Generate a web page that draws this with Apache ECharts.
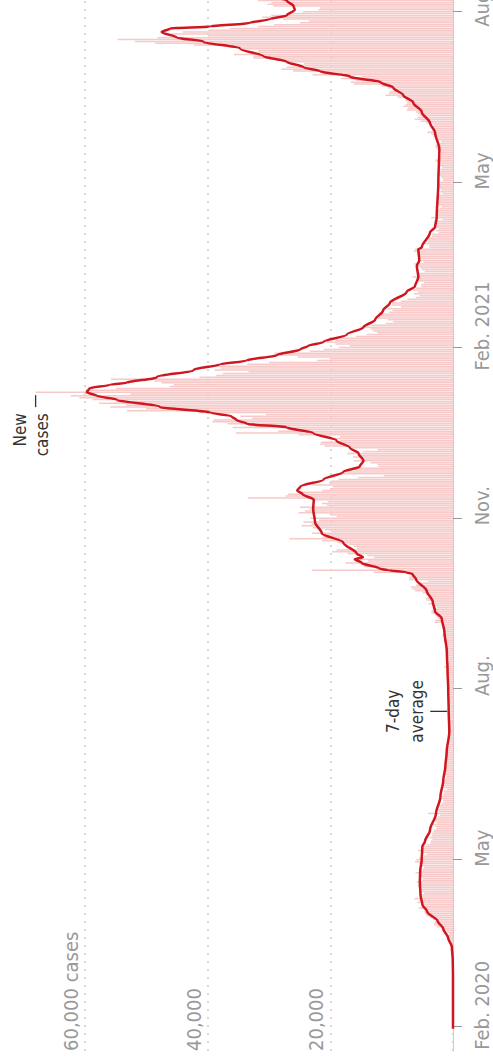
<!DOCTYPE html>
<html>
<head>
<meta charset="utf-8">
<script src="https://cdn.jsdelivr.net/npm/echarts@6/dist/echarts.min.js"></script>
<style>
  html, body { margin: 0; padding: 0; background: #fff; overflow: hidden; }
  /* chart is drawn flat (1062 x 493) and turned a quarter turn to stand upright */
  #box { position: absolute; left: 0; top: 1062px; width: 1062px; height: 493px;
         transform-origin: 0 0; transform: rotate(-90deg); }
</style>
</head>
<body>
<div id="box"></div>
<script>
// daily new cases, one array per month
var jan20 = [2];
var feb20 = [0,0,0,0,0,0,0,0,1,4, 0,0,0,0,0,0,0,0,0,0, 0,0,0,4,0,0,0,3,4];
var mar20 = [12,4,11,34,30,48,43,67,48,61, 74,134,208,342,251,152,407,676,643,714, 1035,665,967,1800,1900,2600,3100,3000,2900,3300, 3700];
var apr20 = [4400,4500,4800,4300,5600,4600,4900,5800,5500,6300, 5200,5300,4700,5400,5500,5100,5700,5600,5900,5000, 4900,5300,5600,6100,5300,4900,4700,5300,5600,6200];
var may20 = [6000,5500,4700,4300,5000,5700,5100,4700,4300,3700, 3600,3400,3800,3400,3500,3300,3100,2700,2900,3200, 2700,3000,2900,2500,2100,4100,2300,2600,2100,2400, 1900];
var jun20 = [1600,1600,1900,1800,1600,1400,1500,1000,1500,1700, 1500,1400,1300,1200,1100,1300,1100,1200,1300,1100, 1000,950,1200,1050,1100,1000,1000,900,1100,700];
var jul20 = [800,600,550,600,550,500,520,600,580,640, 800,650,530,650,540,500,530,600,830,800, 500,450,770,770,800,760,700,580,760,890, 880];
var aug20 = [740,740,950,670,890,950,870,760,1060,1060, 1150,1010,1440,1100,1060,700,710,820,1180,1180, 1030,1290,1030,850,1180,1050,1520,1280,1110,1720, 1420];
var sep20 = [1300,1500,1700,1800,1800,2990,2950,2460,2660,2920, 3540,3500,3330,2620,3100,3990,3390,4320,4420,3900, 4370,4930,6180,6630,6870,6040,5690,4040,7140,7110];
var oct20 = [6914,6968,12872,22961,12594,14542,14162,17540,13864,15166, 12872,13972,17234,19724,18980,15650,16171,16982,18804,21331, 26688,21242,20530,23012,19790,20890,22885,24701,23065,24405, 21915];
var nov20 = [23254,18950,20018,25177,24141,23287,24957,20572,21350,20412, 22950,33470,27301,26860,24962,21363,20051,19609,22915,20252, 19875,18662,15450,11299,18213,17555,16022,15871,12155,12330];
var dec20 = [13430,16170,14879,16298,15539,17272,14718,12282,16578,20964, 21672,21502,18447,20263,18450,25161,35383,28507,27052,35928, 33364,36804,39237,39036,32725,34693,30501,41385,53135,50023, 55892];
var jan21 = [53285,57725,54990,58784,60916,62322,52618,68053,59937,54940, 46165,45533,47525,48682,55761,41346,38598,37535,33355,38905, 37892,40261,33552,30004,22195,20089,25308,28680,29079,23275, 21088];
var feb21 = [18607,16840,19202,20634,19114,18262,15845,14104,12364,13013, 13494,15144,13308,10972,9765,10625,12718,12057,12027,10406, 9834,10641,8489,9938,9985,8523,7434,6035];
var mar21 = [5455,6391,5766,6573,6040,5177,5177,4712,5766,5926, 6609,5534,5529,4618,5089,5294,5758,6303,4802,5587, 5312,5342,5379,5605,6397,6187,3862,3862,4654,4040, 4052];
var apr21 = [4479,3423,3402,2297,2762,2379,2763,3030,2903,3012, 1730,3568,2472,2491,2672,2596,2206,1882,2524,2729, 2396,2729,2678,2381,1712,2064,1946,2166,2445,2411];
var may21 = [2256,1671,1649,1946,2613,2490,2047,2047,1770,2357, 2284,2657,2896,2193,2027,1926,1979,2412,2696,2874, 2829,2235,1940,2439,2439,3180,3542,4182,3398,3240, 3240];
var jun21 = [3165,4330,5274,6238,5765,5341,5683,6048,7540,7393, 8125,7738,7490,7742,7673,9055,11007,10476,10321,9284, 10633,11625,16135,16703,15810,18270,14876,22868,20479,26068];
var jul21 = [27989,27125,24885,24248,27334,28773,32548,32551,35707,31772, 31772,34471,36660,42302,48553,51870,54674,48161,39950,46558, 44104,39906,36389,31795,29173,24950,23511,27734,31117,29622, 26144];
var aug21 = [24470,21952,21691,29312,30215,29612,31808,27429];

// first day of each month array above
var monthStarts = ['2020-01-31','2020-02-01','2020-03-01','2020-04-01','2020-05-01','2020-06-01','2020-07-01',
  '2020-08-01','2020-09-01','2020-10-01','2020-11-01','2020-12-01','2021-01-01','2021-02-01','2021-03-01',
  '2021-04-01','2021-05-01','2021-06-01','2021-07-01','2021-08-01'];
var monthCases = [jan20, feb20, mar20, apr20, may20, jun20, jul20, aug20, sep20, oct20, nov20, dec20,
  jan21, feb21, mar21, apr21, may21, jun21, jul21, aug21];

// 7-day average
var avgDates = ['2020-01-31','2020-02-29','2020-03-08','2020-03-15','2020-03-20','2020-03-25','2020-03-29',
  '2020-04-03','2020-04-07','2020-04-12','2020-04-19','2020-04-25','2020-05-01','2020-05-08','2020-05-11',
  '2020-05-17','2020-05-26','2020-06-04','2020-06-13','2020-06-20','2020-06-28','2020-07-09','2020-07-20',
  '2020-08-01','2020-08-10','2020-08-21','2020-09-01','2020-09-08','2020-09-12','2020-09-17','2020-09-23',
  '2020-09-29','2020-10-02','2020-10-03','2020-10-04','2020-10-05','2020-10-08','2020-10-10','2020-10-11',
  '2020-10-13','2020-10-19','2020-10-24','2020-10-30','2020-11-06','2020-11-11','2020-11-14','2020-11-16',
  '2020-11-18','2020-11-22','2020-11-26','2020-11-29','2020-12-02','2020-12-06','2020-12-09','2020-12-13',
  '2020-12-17','2020-12-20','2020-12-22','2020-12-24','2020-12-26','2020-12-28','2020-12-31','2021-01-04',
  '2021-01-06','2021-01-08','2021-01-10','2021-01-12','2021-01-13','2021-01-16','2021-01-20','2021-01-23',
  '2021-01-25','2021-01-28','2021-01-31','2021-02-02','2021-02-04','2021-02-08','2021-02-12','2021-02-16',
  '2021-02-21','2021-02-25','2021-03-03','2021-03-06','2021-03-11','2021-03-17','2021-03-20','2021-03-26',
  '2021-03-27','2021-04-04','2021-04-07','2021-04-12','2021-05-01','2021-05-19','2021-05-28','2021-06-02',
  '2021-06-08','2021-06-13','2021-06-17','2021-06-21','2021-06-24','2021-06-27','2021-06-30','2021-07-02',
  '2021-07-05','2021-07-08','2021-07-12','2021-07-16','2021-07-18','2021-07-21','2021-07-23','2021-07-24',
  '2021-07-26','2021-07-28','2021-07-30','2021-08-02','2021-08-04','2021-08-07','2021-08-08'];
var avgValues = [0,3,40,180,800,1600,2500,
  4200,5000,5300,5400,5350,5100,5000,4560,
  3750,2770,2050,1580,1250,1030,600,700,
  780,880,1000,1400,1840,2930,3300,4290,
  6000,6600,7600,10500,12000,14900,16000,14700,
  15700,17900,21400,22500,22800,22700,24500,25400,
  24900,21100,17900,15200,14600,15400,16800,19000,
  22800,27100,33600,35300,36100,39600,47800,54800,
  58100,59700,59300,55900,53200,48300,42300,38000,
  33600,28700,24900,23600,21100,17300,14600,12700,
  11400,10300,7550,6200,5650,5900,5500,5650,
  5100,3750,2930,2660,2390,2230,2930,3750,
  5100,6470,8100,9730,11800,16800,21700,24400,
  27100,30900,34700,40700,45000,47500,46100,39600,
  33100,29800,27100,25800,26000,27100,28000];

var tickDates = ['2020-02-01','2020-05-01','2020-08-01','2020-11-01','2021-02-01','2021-05-01','2021-08-01'];
var tickLabels = ['Feb. 2020','May','Aug.','Nov.','Feb. 2021','May','Aug.'];
var yTicks = [20000, 40000, 60000];
var yLabels = ['20,000', '40,000', '60,000 cases'];

var DAY = 864e5;
function utc(s) {
  var p = s.split('-');
  return Date.UTC(+p[0], +p[1] - 1, +p[2]);
}

var font = "'Liberation Sans Narrow', 'DejaVu Sans Condensed', Roboto, sans-serif";
var red = '#d0161e';

var xMin = utc('2020-01-19');
var xMax = utc('2021-08-07') + 0.3 * DAY;
var gridLeft = 11;
var pxPerDay = (1062 - gridLeft) / ((xMax - xMin) / DAY);

// bars: one per day
var barData = [];
monthCases.forEach(function (arr, m) {
  var t0 = utc(monthStarts[m]);
  arr.forEach(function (v, i) { barData.push([t0 + i * DAY, v]); });
});

var lineData = avgDates.map(function (d, i) { return [utc(d), avgValues[i]]; });

// month labels start a little before their tick, "Feb." ones further,
// the last one is pulled back from the edge
var tickVals = tickDates.map(utc);
var labelVals = [];
var labelText = {};
tickDates.forEach(function (d, i) {
  var lead = tickLabels[i].indexOf('Feb') === 0 ? 23 : 7;
  if (i === tickDates.length - 1) lead = 15;
  var v = utc(d) - lead / pxPerDay * DAY;
  labelVals.push(v);
  labelText[v] = tickLabels[i];
});

var chart = echarts.init(document.getElementById('box'), null, { renderer: 'svg' });
chart.setOption({
  animation: false,
  // 60,000 sits at 85px, the top is left free for the tallest bars
  grid: { left: gridLeft, right: 0, top: 11.4, bottom: 40, containLabel: false, outerBoundsMode: 'none' },
  xAxis: {
    type: 'value',
    min: xMin,
    max: xMax,
    axisLine: { show: true, onZero: true, lineStyle: { color: '#ccc', width: 1 } },
    axisTick: { show: true, customValues: tickVals, length: 9, lineStyle: { color: '#999', width: 1 } },
    axisLabel: {
      customValues: labelVals,
      formatter: function (v) { return labelText[v] || ''; },
      align: 'left',
      margin: 19,
      color: '#999',
      fontSize: 20,
      fontFamily: font
    },
    splitLine: { show: false }
  },
  yAxis: {
    type: 'value',
    min: 0,
    max: 72000,
    interval: 20000,
    axisLine: { show: false },
    axisTick: { show: false },
    splitLine: { showMaxLine: false, lineStyle: { color: '#ccc', width: 1.5, type: [2, 6] } },
    axisLabel: {
      inside: true,
      margin: 0,
      align: 'left',
      verticalAlign: 'bottom',
      padding: [0, 0, 4, 0],
      color: '#999',
      fontSize: 20,
      fontFamily: font,
      showMaxLabel: false,
      formatter: function (v) {
        var i = yTicks.indexOf(v);
        return i < 0 ? '' : yLabels[i];
      }
    }
  },
  series: [
    {
      name: 'New cases',
      type: 'bar',
      data: barData,
      barWidth: 1.5,
      clip: false,
      silent: true,
      itemStyle: { color: '#f7c9c9' },
      markPoint: {
        silent: true,
        data: [{
          coord: [utc('2021-01-08'), 68053],
          symbol: 'rect',
          symbolSize: [12, 1.3],
          symbolOffset: [-9, 0],
          itemStyle: { color: '#333' },
          label: {
            show: true,
            position: 'left',
            distance: 6,
            formatter: 'New\ncases',
            align: 'right',
            color: '#333',
            fontSize: 17,
            lineHeight: 22,
            offset: [0, -5],
            fontFamily: font
          }
        }]
      }
    },
    {
      name: '7-day average',
      type: 'line',
      data: lineData,
      symbol: 'none',
      smooth: 0.3,
      smoothMonotone: 'x',
      clip: false,
      silent: true,
      z: 3,
      lineStyle: { color: red, width: 2.5 },
      markPoint: {
        silent: true,
        data: [{
          coord: [utc('2020-07-20'), 700],
          symbol: 'rect',
          symbolSize: [1.3, 17],
          symbolOffset: [0, -10],
          itemStyle: { color: '#333' },
          label: {
            show: true,
            position: 'top',
            distance: 1,
            formatter: '7-day\naverage',
            align: 'center',
            color: '#333',
            fontSize: 17,
            lineHeight: 24,
            fontFamily: font
          }
        }]
      }
    }
  ]
});
</script>
</body>
</html>
